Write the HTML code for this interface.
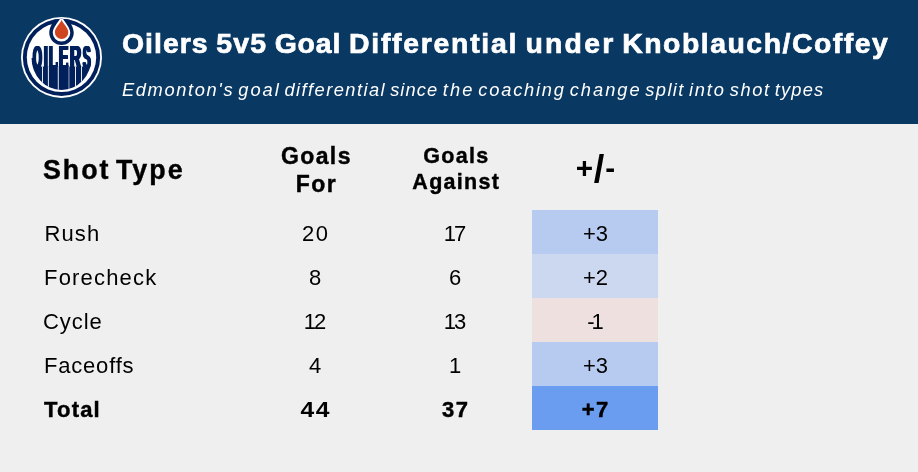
<!DOCTYPE html>
<html lang="en"><head><meta charset="utf-8">
<title>Oilers 5v5 Goal Differential under Knoblauch/Coffey</title>
<style>
html,body{margin:0;padding:0;}
body{width:918px;height:472px;background:#efefef;font-family:"Liberation Sans",sans-serif;color:#000;overflow:hidden;position:relative;}
.hdr{position:absolute;left:0;top:0;width:918px;height:124px;background:#093862;}
.logo{position:absolute;left:0;top:0;}
.oilers{position:absolute;left:0;top:40.17px;font-size:32.7px;line-height:36px;font-weight:700;color:#00205b;white-space:nowrap;}
.oilers span{position:absolute;top:0;transform-origin:0 0;}
.title{position:absolute;left:-0.8px;top:25px;width:918px;height:36px;font-size:28.4px;font-weight:700;color:#fff;white-space:nowrap;line-height:36px;}
.title span,.sub span{position:absolute;top:0;}
.sub{position:absolute;left:-1px;top:79px;width:918px;height:22px;font-size:18.3px;font-style:italic;font-weight:400;color:#fff;white-space:nowrap;line-height:22px;}
.t{position:absolute;white-space:nowrap;}
.h1{font-size:26.8px;font-weight:700;left:43px;top:153px;line-height:34px;letter-spacing:2px;word-spacing:-4px;}
.hc{font-size:21px;font-weight:700;text-align:center;line-height:27px;width:140px;}
.c{font-size:22px;font-weight:400;line-height:44px;height:44px;padding-top:2px;box-sizing:border-box;}
.cc{text-align:center;width:126px;letter-spacing:1.5px;padding-left:1.5px;}
.b{font-weight:700;-webkit-text-stroke:0.45px #000;}
.h1,.hc{-webkit-text-stroke:0.4px #000;}
.title{-webkit-text-stroke:0.7px #fff;}
</style></head><body>
<div class="hdr">
<svg class="logo" width="124" height="124" viewBox="0 0 124 124">
  <defs>
    <clipPath id="dripclip"><ellipse cx="61.5" cy="57.4" rx="30" ry="32.6"/></clipPath>
    <clipPath id="ringclip"><circle cx="61.5" cy="57.4" r="38.65"/></clipPath>
  </defs>
  <circle cx="61.5" cy="57.4" r="40.5" fill="#fff"/>
  <circle cx="61.5" cy="57.4" r="38.65" fill="#00205b"/>
  <circle cx="61.5" cy="57.4" r="34.7" fill="#fff"/>
  <g clip-path="url(#ringclip)">
    <path d="M61.5 6 C63.34 14.03 73.75 24.18 73.75 32.75 A12.25 12.25 0 0 1 49.25 32.75 C49.25 24.18 59.66 14.03 61.5 6Z" fill="#00205b"/>
    <path d="M61.5 15.5 C62.81 20.68 70.25 26.62 70.25 32.75 A8.75 8.75 0 0 1 52.75 32.75 C52.75 26.62 60.19 20.68 61.5 15.5Z" fill="#fff"/>
  </g>
  <path d="M61.6 19.8 C62.61 23.52 68.30 27.51 68.30 32.2 A6.7 6.7 0 0 1 54.90 32.2 C54.90 27.51 60.59 23.52 61.6 19.8Z" fill="#cf4520"/>
  <rect x="55.6" y="62" width="2.4" height="5" fill="#00205b"/><rect x="66" y="62.6" width="2.4" height="4.5" fill="#00205b"/>
  <g clip-path="url(#dripclip)">
    <rect x="30" y="66.6" width="62" height="26" fill="#00205b"/>
    <rect x="30" y="58" width="5.4" height="10" fill="#00205b"/>
    <rect x="87.6" y="61" width="3" height="7" fill="#00205b"/>
  </g>
</svg>
<div class="oilers"><span style="left:32.58px;transform:scale(0.348,1);text-shadow:2.73px 0 0 #00205b,-2.73px 0 0 #00205b,1.37px 0 0 #00205b,-1.37px 0 0 #00205b">O</span><span style="left:43.67px;transform:scale(0.403,1);text-shadow:2.35px 0 0 #00205b,-2.35px 0 0 #00205b,1.18px 0 0 #00205b,-1.18px 0 0 #00205b">I</span><span style="left:49.27px;transform:scale(0.399,1);text-shadow:2.38px 0 0 #00205b,-2.38px 0 0 #00205b,1.19px 0 0 #00205b,-1.19px 0 0 #00205b">L</span><span style="left:58.62px;transform:scale(0.425,1);text-shadow:2.23px 0 0 #00205b,-2.23px 0 0 #00205b,1.12px 0 0 #00205b,-1.12px 0 0 #00205b">E</span><span style="left:69.52px;transform:scale(0.472,1);text-shadow:2.01px 0 0 #00205b,-2.01px 0 0 #00205b,1.01px 0 0 #00205b,-1.01px 0 0 #00205b">R</span><span style="left:82.52px;transform:scale(0.347,1);text-shadow:2.74px 0 0 #00205b,-2.74px 0 0 #00205b,1.37px 0 0 #00205b,-1.37px 0 0 #00205b">S</span></div>
<svg class="logo" width="124" height="124" viewBox="0 0 124 124">
  <g clip-path="url(#dripclip)" fill="#fff">
    <rect x="42.1" y="66.6" width="0.9" height="26"/>
    <rect x="47.9" y="66.6" width="0.9" height="26"/>
    <rect x="57.8" y="66.6" width="0.9" height="26"/>
    <rect x="68.5" y="66.6" width="0.9" height="26" opacity="0.65"/>
    <rect x="75.1" y="66.6" width="0.9" height="26"/>
    <rect x="81.1" y="66.6" width="0.9" height="26"/>
  </g>
</svg>
<div class="title"><span style="left:122.76px;letter-spacing:1.03px">Oilers</span> <span style="left:217.01px;letter-spacing:1.24px">5v5</span> <span style="left:275.44px;letter-spacing:0.89px">Goal</span> <span style="left:349.88px;letter-spacing:1.73px">Differential</span> <span style="left:526.25px;letter-spacing:2.24px">under</span> <span style="left:623.04px;letter-spacing:1.51px">Knoblauch/Coffey</span></div>
<div class="sub"><span style="left:122.91px;letter-spacing:1.64px">Edmonton's</span> <span style="left:239.30px;letter-spacing:1.95px">goal</span> <span style="left:285.38px;letter-spacing:1.45px">differential</span> <span style="left:391.15px;letter-spacing:1.07px">since</span> <span style="left:443.72px;letter-spacing:2.19px">the</span> <span style="left:479.33px;letter-spacing:1.78px">coaching</span> <span style="left:570.70px;letter-spacing:2.01px">change</span> <span style="left:646.36px;letter-spacing:1.37px">split</span> <span style="left:689.96px;letter-spacing:1.84px">into</span> <span style="left:730.64px;letter-spacing:1.64px">shot</span> <span style="left:775.63px;letter-spacing:1.22px">types</span></div>
</div>
<div class="t h1">Shot Type</div>
<div class="t hc" style="left:245px;top:142px;font-size:23px;line-height:28px;letter-spacing:1.4px;padding-left:1.4px">Goals<br>For</div>
<div class="t hc" style="left:385px;top:143px;font-size:21.5px;line-height:26.4px;letter-spacing:1.3px;padding-left:1.3px">Goals<br>Against</div>
<div class="t hc" style="left:525px;top:151px;-webkit-text-stroke:0;font-size:29.7px;line-height:34px;letter-spacing:0.8px;padding-left:0.8px">+<span style="font-size:38px;line-height:0;position:relative;top:4px">/</span>-</div>

<div class="t c" style="left:44.5px;top:210px;letter-spacing:1.1px" id="rush">Rush</div>
<div class="t c" style="left:44px;top:254px;letter-spacing:1.19px" id="fore">Forecheck</div>
<div class="t c" style="left:43px;top:298px;letter-spacing:0.95px">Cycle</div>
<div class="t c" style="left:44px;top:342px;letter-spacing:0.8px">Faceoffs</div>
<div class="t c b" style="left:44px;top:386px;letter-spacing:1.2px" id="total">Total</div>

<div class="t c cc" style="left:252px;top:210px" id="n20">20</div>
<div class="t c cc" style="left:252px;top:254px">8</div>
<div class="t c cc" style="left:252px;top:298px;letter-spacing:-2px;padding-left:0;padding-right:2px">12</div>
<div class="t c cc" style="left:252px;top:342px">4</div>
<div class="t c cc b" style="left:252px;top:386px;letter-spacing:1.2px;padding-left:1.2px;transform:scaleX(1.12);-webkit-text-stroke:0">44</div>

<div class="t c cc" style="left:392px;top:210px;letter-spacing:-2px;padding-left:0;padding-right:2px">17</div>
<div class="t c cc" style="left:392px;top:254px">6</div>
<div class="t c cc" style="left:392px;top:298px;letter-spacing:-2px;padding-left:0;padding-right:2px">13</div>
<div class="t c cc" style="left:392px;top:342px">1</div>
<div class="t c cc b" style="left:392px;top:386px">37</div>

<div class="t c cc" style="left:532px;top:210px;background:#b7cbf1;letter-spacing:0;padding-left:1px">+3</div>
<div class="t c cc" style="left:532px;top:254px;background:#cbd8f0;letter-spacing:0;padding-left:1px">+2</div>
<div class="t c cc" style="left:532px;top:298px;background:#eee0de;letter-spacing:-3px;padding-left:0;padding-right:2px">-1</div>
<div class="t c cc" style="left:532px;top:342px;background:#b7cbf1;letter-spacing:0;padding-left:1px">+3</div>
<div class="t c cc b" style="left:532px;top:386px;background:#6a9cf0">+7</div>
</body></html>
